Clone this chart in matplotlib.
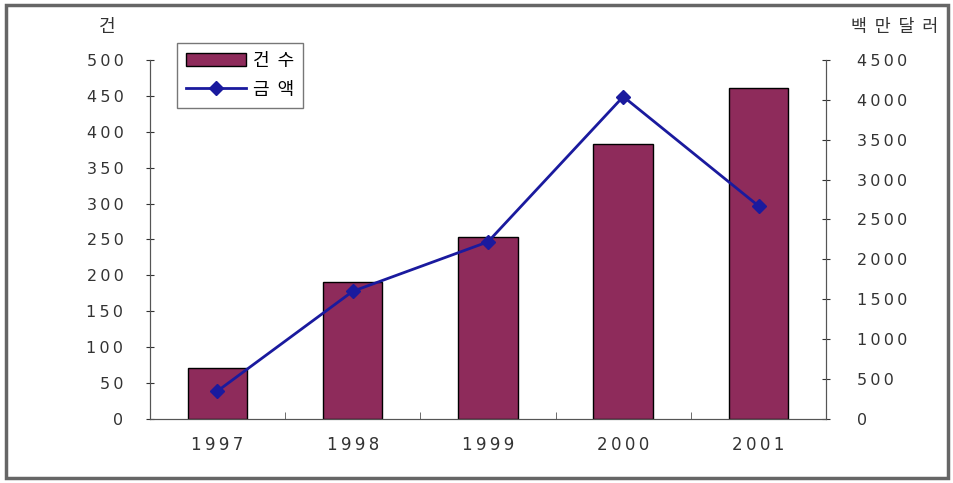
import numpy as np
import matplotlib
matplotlib.use('Agg')
import matplotlib.pyplot as plt
from matplotlib.patches import Rectangle

plt.rcParams['font.family'] = ['Noto Sans CJK KR', 'DejaVu Sans']

years = ['1997', '1998', '1999', '2000', '2001']
counts = [71, 191, 253, 383, 461]          # 건수
amounts = [350, 1600, 2220, 4040, 2670]     # 금액 (백만달러)

def spaced(s):
    # mimic the wide letter spacing of the original
    return '\u2009'.join(str(s))

fig = plt.figure(figsize=(9.54, 4.83), dpi=100)
ax = fig.add_axes([0.157, 0.1325, 0.709, 0.7435])
ax2 = ax.twinx()

x = np.arange(len(years))
bars = ax.bar(x, counts, width=0.44, color='#8e2b5b', edgecolor='black', linewidth=1.0)
line, = ax2.plot(x, amounts, color='#1a1a9e', linewidth=2.0, marker='D', markersize=7)

ax.set_xlim(-0.5, 4.5)
ax.set_ylim(0, 500)
ax2.set_ylim(0, 4500)
lt = np.arange(0, 501, 50)
rt = np.arange(0, 4501, 500)
ax.set_yticks(lt)
ax.set_yticklabels([spaced(v) for v in lt], family='DejaVu Sans')
ax2.set_yticks(rt)
ax2.set_yticklabels([spaced(v) for v in rt], family='DejaVu Sans')
ax.set_xticks(x)
ax.set_xticklabels([spaced(y) for y in years], family='DejaVu Sans')
ax.set_xticks(np.arange(0.5, 4.5, 1), minor=True)

for a in (ax, ax2):
    a.spines['top'].set_visible(False)
    for s in a.spines.values():
        s.set_color('#555555')
ax.tick_params(axis='y', direction='inout', length=6, labelsize=11.5, pad=16, colors='#333333')
ax2.tick_params(axis='y', direction='inout', length=6, labelsize=11.5, pad=19, colors='#333333')
ax.tick_params(axis='x', which='major', length=0, labelsize=12, pad=12, colors='#333333')
ax.tick_params(axis='x', which='minor', direction='in', length=5, color='#555555')

fig.text(0.112, 0.945, '건', fontsize=13, ha='center', va='center', color='#333333')
fig.text(0.938, 0.945, '백  만  달  러', fontsize=12.5, ha='center', va='center', color='#333333')

leg = fig.legend([bars, line], ['건  수', '금  액'], loc='upper left',
                 bbox_to_anchor=(0.176, 0.93), fontsize=13, frameon=True,
                 fancybox=False, edgecolor='#555555', handlelength=3.3,
                 borderpad=0.5, labelspacing=0.6, handletextpad=0.4)

fig.patches.append(Rectangle((0.006, 0.01), 0.988, 0.98, transform=fig.transFigure,
                             fill=False, edgecolor='#666666', linewidth=2.5))

fig.savefig('out.png', dpi=100)
